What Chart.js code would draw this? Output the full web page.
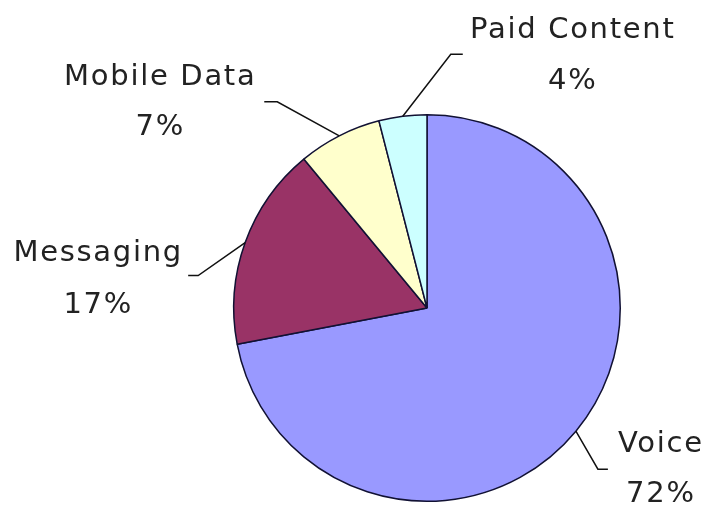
<!DOCTYPE html>
<html>
<head>
<meta charset="utf-8">
<title>Revenue split</title>
<script src="https://cdn.jsdelivr.net/npm/chart.js@4/dist/chart.umd.min.js"></script>
<style>
  html, body { margin: 0; padding: 0; background: #fff; }
  #wrap { width: 711px; height: 512px; }
</style>
</head>
<body>
<div id="wrap"><canvas id="pie" width="711" height="512"></canvas></div>
<script>
// slices, clockwise from twelve o'clock
const labels = ['Voice', 'Messaging', 'Mobile Data', 'Paid Content']
const shares = [72, 17, 7, 4]
const colors = ['#9999ff', '#993366', '#ffffcc', '#ccffff']

// leader line for each slice: bend from the rim, short horizontal tick,
// then where the two text lines sit relative to the tick end
const leaders = [
  { bend: [22, 38],  tick: 10,  text: [53, -17, 33] },
  { bend: [-47, 33], tick: -10, text: [-90, -15, 37] },
  { bend: [-62, -34], tick: -13, text: [-104, -17, 33] },
  { bend: [48, -62], tick: 12,  text: [110, -16, 35] }
]

const FONT = '29px "DejaVu Sans", sans-serif'

const calloutPlugin = {
  id: 'callouts',
  afterDatasetsDraw(chart) {
    const ctx = chart.ctx
    const arcs = chart.getDatasetMeta(0).data
    ctx.save()
    arcs.forEach((arc, i) => {
      const mid = (arc.startAngle + arc.endAngle) / 2
      const x0 = arc.x + Math.cos(mid) * arc.outerRadius
      const y0 = arc.y + Math.sin(mid) * arc.outerRadius
      const L = leaders[i]
      const x1 = x0 + L.bend[0], y1 = y0 + L.bend[1]
      const x2 = x1 + L.tick
      ctx.strokeStyle = '#111'
      ctx.lineWidth = 1.5
      ctx.beginPath()
      ctx.moveTo(x0, y0)
      ctx.lineTo(x1, y1)
      ctx.lineTo(x2, y1)
      ctx.stroke()

      ctx.fillStyle = '#222'
      ctx.font = FONT
      ctx.letterSpacing = '1.7px'
      ctx.textAlign = 'center'
      ctx.textBaseline = 'alphabetic'
      ctx.fillText(labels[i], x2 + L.text[0], y1 + L.text[1])
      ctx.fillText(shares[i] + '%', x2 + L.text[0], y1 + L.text[2])
    })
    ctx.restore()
  }
}

new Chart(document.getElementById('pie'), {
  type: 'pie',
  data: {
    labels: labels,
    datasets: [{
      data: shares,
      backgroundColor: colors,
      borderColor: '#111133',
      borderWidth: 1.5
    }]
  },
  options: {
    responsive: false,
    animation: false,
    layout: { padding: { left: 233, top: 114, right: 90, bottom: 10 } },
    plugins: {
      legend: { display: false },
      tooltip: { enabled: false }
    }
  },
  plugins: [calloutPlugin]
})
</script>
</body>
</html>
